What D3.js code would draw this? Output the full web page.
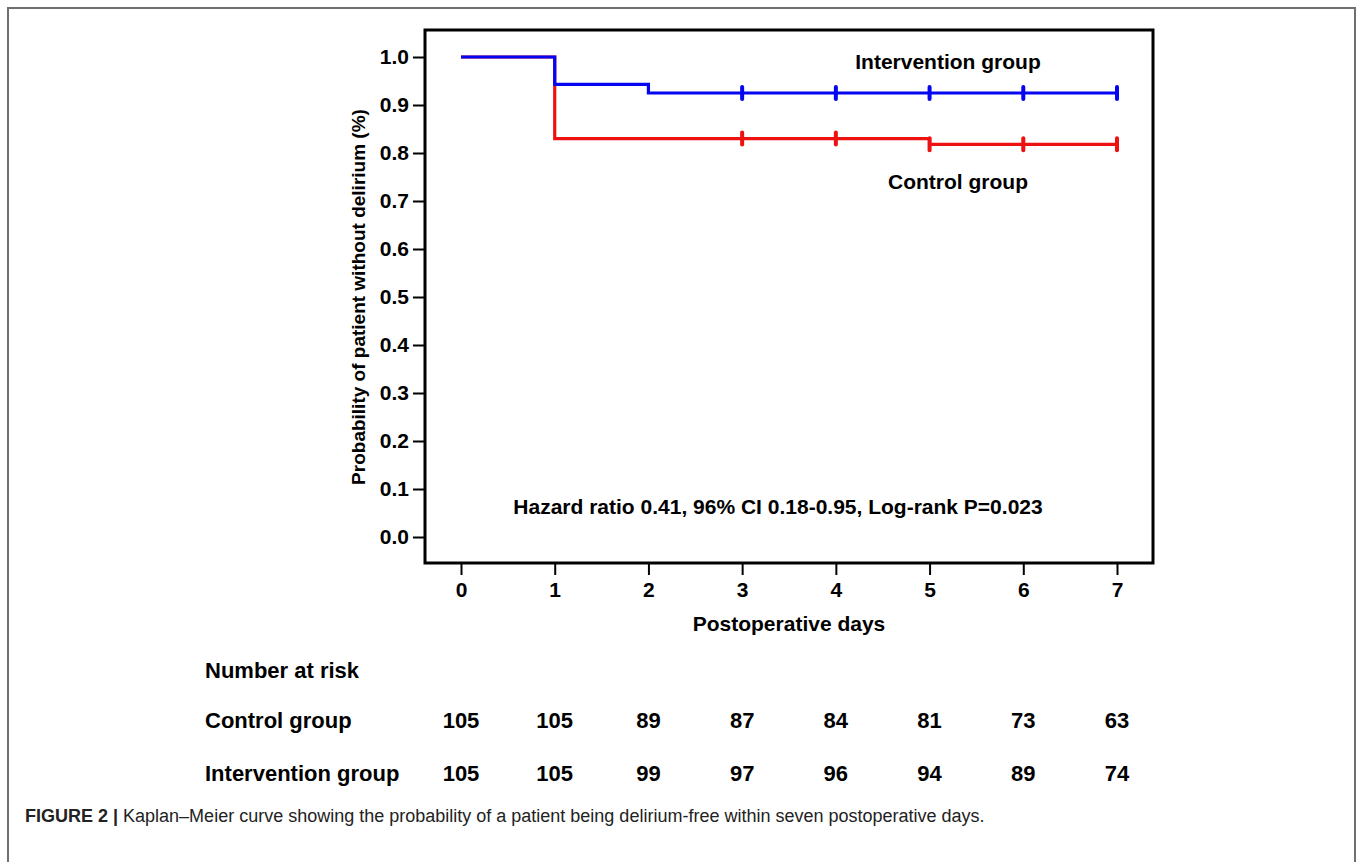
<!DOCTYPE html>
<html>
<head>
<meta charset="utf-8">
<script src="https://cdn.jsdelivr.net/npm/d3@7"></script>
<style>
  body { margin: 0; background: #fff; }
  text { font-family: "Liberation Sans", Arial, sans-serif; }
</style>
</head>
<body>
<svg id="chart" width="1357" height="862"></svg>
<script>
// data
var days = [0, 1, 2, 3, 4, 5, 6, 7];
var yTicks = [0, 0.1, 0.2, 0.3, 0.4, 0.5, 0.6, 0.7, 0.8, 0.9, 1.0];

// step points (day, survival) for each group
var controlSteps = [[0, 1.0], [1, 0.83], [5, 0.818], [7, 0.818]];
var interventionSteps = [[0, 1.0], [1, 0.943], [2, 0.925], [7, 0.925]];

// censor marks
var controlCensor = [3, 4, 5, 6, 7];
var interventionCensor = [3, 4, 5, 6, 7];

var controlRisk = [105, 105, 89, 87, 84, 81, 73, 63];
var interventionRisk = [105, 105, 99, 97, 96, 94, 89, 74];

var red = "#ee1111", blue = "#0505f0";

var svg = d3.select("#chart");

// outer figure border
svg.append("rect")
  .attr("x", 8).attr("y", 8)
  .attr("width", 1347).attr("height", 880)
  .attr("fill", "none").attr("stroke", "#6f6f6f").attr("stroke-width", 2);

// scales: day 0 at x=461, day 7 at x=1117; 0 at y=537, 1 at y=57
var x = d3.scaleLinear().domain([0, 7]).range([461, 1117]);
var y = d3.scaleLinear().domain([0, 1]).range([537, 57]);

var frame = { left: 425, right: 1153, top: 30, bottom: 563 };

// y axis
var yAxis = svg.append("g")
  .attr("transform", "translate(" + frame.left + ",0)")
  .call(d3.axisLeft(y).tickValues(yTicks).tickSize(12).tickPadding(4)
    .tickFormat(d3.format(".1f")));
yAxis.select(".domain").remove();
yAxis.selectAll("line").attr("stroke", "#000").attr("stroke-width", 2);
yAxis.selectAll("text")
  .attr("font-size", 21).attr("font-weight", "bold").attr("fill", "#000")
  .attr("font-family", "Liberation Sans, Arial, sans-serif");

// x axis
var xAxis = svg.append("g")
  .attr("transform", "translate(0," + frame.bottom + ")")
  .call(d3.axisBottom(x).tickValues(days).tickSize(12).tickPadding(7)
    .tickFormat(d3.format("d")));
xAxis.select(".domain").remove();
xAxis.selectAll("line").attr("stroke", "#000").attr("stroke-width", 2);
xAxis.selectAll("text")
  .attr("font-size", 21).attr("font-weight", "bold").attr("fill", "#000")
  .attr("font-family", "Liberation Sans, Arial, sans-serif");

// step lines
var line = d3.line()
  .x(function(d) { return x(d[0]); })
  .y(function(d) { return y(d[1]); })
  .curve(d3.curveStepAfter);

function stepValue(steps, t) {
  var v = steps[0][1];
  steps.forEach(function(s) { if (s[0] <= t) v = s[1]; });
  return v;
}

function drawGroup(steps, censor, color) {
  svg.append("path")
    .datum(steps)
    .attr("d", line)
    .attr("fill", "none")
    .attr("stroke", color)
    .attr("stroke-width", 3.2);
  svg.append("g").selectAll("line")
    .data(censor)
    .enter().append("line")
    .attr("x1", function(d) { return x(d); })
    .attr("x2", function(d) { return x(d); })
    .attr("y1", function(d) { return y(stepValue(steps, d)) - 6; })
    .attr("y2", function(d) { return y(stepValue(steps, d)) + 6; })
    .attr("stroke", color)
    .attr("stroke-width", 4)
    .attr("stroke-linecap", "round");
}

drawGroup(controlSteps, controlCensor, red);
drawGroup(interventionSteps, interventionCensor, blue);

// plot frame
svg.append("rect")
  .attr("x", frame.left).attr("y", frame.top)
  .attr("width", frame.right - frame.left).attr("height", frame.bottom - frame.top)
  .attr("fill", "none").attr("stroke", "#000").attr("stroke-width", 3);

// in-plot labels
var bold = function(sel) { return sel.attr("font-weight", "bold").attr("fill", "#000"); };

bold(svg.append("text")).attr("x", 948).attr("y", 69)
  .attr("text-anchor", "middle").attr("font-size", 21).text("Intervention group");
bold(svg.append("text")).attr("x", 958).attr("y", 189)
  .attr("text-anchor", "middle").attr("font-size", 21).text("Control group");
bold(svg.append("text")).attr("x", 778).attr("y", 514)
  .attr("text-anchor", "middle").attr("font-size", 21)
  .text("Hazard ratio 0.41, 96% CI 0.18-0.95, Log-rank P=0.023");

// axis titles
bold(svg.append("text")).attr("x", 789).attr("y", 631)
  .attr("text-anchor", "middle").attr("font-size", 21).text("Postoperative days");
bold(svg.append("text"))
  .attr("transform", "translate(365,297) rotate(-90)")
  .attr("text-anchor", "middle").attr("font-size", 19)
  .text("Probability of patient without delirium (%)");

// number at risk table
bold(svg.append("text")).attr("x", 205).attr("y", 678)
  .attr("font-size", 22).text("Number at risk");

function riskRow(label, values, yPos) {
  bold(svg.append("text")).attr("x", 205).attr("y", yPos)
    .attr("font-size", 22).text(label);
  svg.append("g").selectAll("text")
    .data(values)
    .enter().append("text")
    .attr("x", function(d, i) { return x(days[i]); })
    .attr("y", yPos)
    .attr("text-anchor", "middle")
    .attr("font-size", 22).attr("font-weight", "bold").attr("fill", "#000")
    .text(function(d) { return d; });
}
riskRow("Control group", controlRisk, 728);
riskRow("Intervention group", interventionRisk, 781);

// caption
var cap = svg.append("text").attr("x", 25).attr("y", 822).attr("font-size", 18).attr("fill", "#222");
cap.append("tspan").attr("font-weight", "bold").text("FIGURE 2 | ");
cap.append("tspan").text("Kaplan\u2013Meier curve showing the probability of a patient being delirium-free within seven postoperative days.");
</script>
</body>
</html>
